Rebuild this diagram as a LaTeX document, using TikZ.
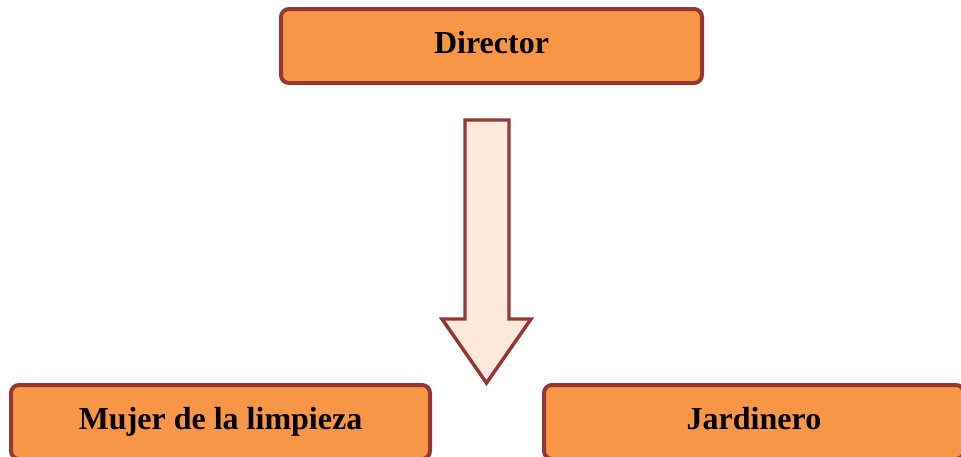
\documentclass[tikz,border=0pt]{standalone}
\usepackage{fontspec}
\setmainfont{Liberation Serif}
\definecolor{borde}{HTML}{953735}
\definecolor{naranja}{HTML}{F79646}
\definecolor{crema}{HTML}{FCE9DB}
\tikzset{
  caja/.style={draw=borde, line width=3pt, fill=naranja, rounded corners=6pt,
    font=\fontsize{24}{28}\selectfont\bfseries, text=black, inner sep=0pt,
    text height=16.5pt, text depth=6pt},
  flecha/.style={draw=borde, line width=2.6pt, fill=crema, line join=miter}
}
\begin{document}
\begin{tikzpicture}[x=0.75pt, y=-0.75pt]
    % 1. Marco de la imagen
    \useasboundingbox (0,0) rectangle (961,457);

    % 2. Cajas
    \node[caja, minimum width=315.75pt, minimum height=55.5pt] (director) at (491.5,46) {Director};
    \node[caja, minimum width=314.25pt, minimum height=55.5pt] (limpieza) at (220.5,422) {Mujer de la limpieza};
    \node[caja, minimum width=315pt, minimum height=55.5pt] (jardinero) at (754,422) {Jardinero};

    % 3. Flecha de bloque hacia abajo
    \coordinate (punta) at (486.5,383);
    \draw[flecha] (465,120) -- (509,120) -- (509,319) -- (531,319) -- (punta)
        -- (442,319) -- (465,319) -- cycle;
\end{tikzpicture}
\end{document}
